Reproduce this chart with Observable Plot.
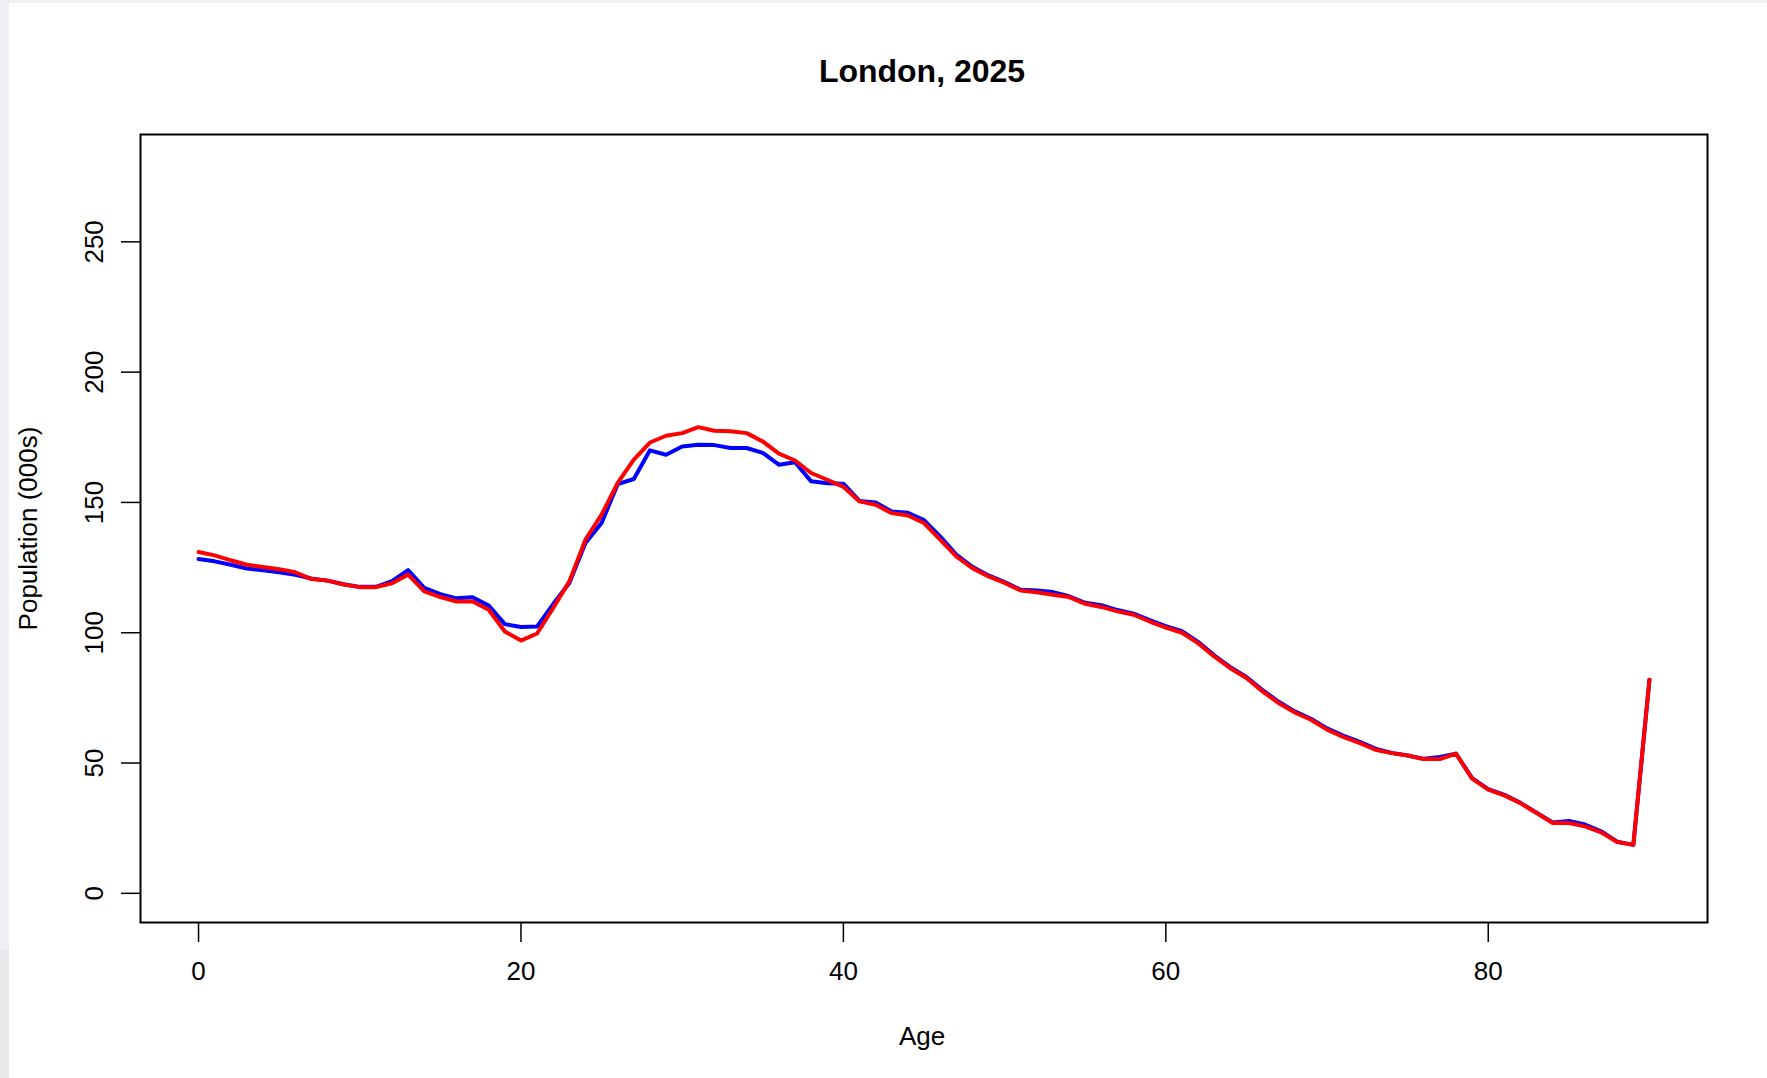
<!DOCTYPE html>
<html>
<head>
<meta charset="utf-8">
<script src="https://cdn.jsdelivr.net/npm/d3@7"></script>
<script src="https://cdn.jsdelivr.net/npm/@observablehq/plot@0.6"></script>
<style>
  body { margin: 0; background: #ffffff; width: 1767px; height: 1078px; overflow: hidden; position: relative; }
  #chart { position: absolute; left: 0; top: 0; }
  .strip { position: absolute; }
</style>
</head>
<body>
<div id="chart"></div>
<div class="strip" style="left:0;top:0;width:1767px;height:3px;background:#eef0f5"></div>
<div class="strip" style="left:0;top:0;width:9px;height:950px;background:#eef0f6"></div>
<div class="strip" style="left:0;top:950px;width:9px;height:128px;background:#e8e9eb"></div>
<script>
const ages = [0,1,2,3,4,5,6,7,8,9,10,11,12,13,14,15,16,17,18,19,20,21,22,23,24,25,26,27,28,29,30,
  31,32,33,34,35,36,37,38,39,40,41,42,43,44,45,46,47,48,49,50,51,52,53,54,55,56,57,58,59,60,
  61,62,63,64,65,66,67,68,69,70,71,72,73,74,75,76,77,78,79,80,81,82,83,84,85,86,87,88,89,90];

const seriesBlue = [128.3,127.4,126.1,124.6,124.0,123.2,122.2,120.8,120.0,118.6,117.6,
  117.6,119.8,124.0,117.2,114.8,113.2,113.6,110.4,103.3,102.2,
  102.4,111.0,119.1,134.4,142.1,157.0,159.0,170.0,168.3,171.5,
  172.1,172.0,170.9,170.9,169.0,164.5,165.4,158.1,157.4,157.2,
  150.6,150.0,146.5,146.0,143.2,137.0,130.0,125.3,122.0,119.4,
  116.5,116.2,115.6,114.0,111.5,110.6,108.7,107.3,104.8,102.5,
  100.6,96.5,91.3,86.8,83.0,78.0,73.5,69.8,67.0,63.3,
  60.5,58.2,55.5,53.9,52.9,51.6,52.3,53.6,44.2,40.0,
  37.8,34.7,30.9,27.2,27.8,26.4,23.8,19.8,18.6,82.0];

const seriesRed = [131.0,129.7,127.8,126.1,125.2,124.4,123.2,120.6,120.0,118.5,117.5,
  117.5,119.0,122.3,115.9,113.7,112.0,112.0,108.8,100.5,97.0,
  99.7,109.5,119.7,135.7,145.3,157.5,166.4,173.0,175.6,176.6,
  178.9,177.5,177.3,176.6,173.4,168.7,166.1,161.3,158.7,156.0,
  150.4,149.1,145.9,145.0,142.1,135.7,129.3,124.8,121.6,119.1,
  116.2,115.5,114.6,113.7,111.1,109.9,108.2,106.9,104.3,102.0,
  100.0,96.0,90.9,86.4,82.6,77.5,73.0,69.4,66.6,62.8,
  60.0,57.7,55.1,53.8,52.9,51.5,51.5,53.6,44.0,39.8,
  37.6,34.6,30.8,27.0,27.0,25.7,23.4,19.7,18.6,82.0];

const xTicks = [0, 20, 40, 60, 80];
const yTicks = [0, 50, 100, 150, 200, 250];
const titleText = "London, 2025";
const xLabel = "Age";
const yLabel = "Population (000s)";

const blueData = ages.map((a, i) => ({age: a, pop: seriesBlue[i]}));
const redData = ages.map((a, i) => ({age: a, pop: seriesRed[i]}));

const font = "'Liberation Sans', Arial, sans-serif";

const chart = Plot.plot({
  width: 1767,
  height: 1078,
  marginLeft: 140,
  marginRight: 60,
  marginTop: 134,
  marginBottom: 156,
  style: {background: "white", fontFamily: font, color: "black", overflow: "visible"},
  x: {domain: [-3.6, 93.6]},
  y: {domain: [-11.2, 291.2]},
  marks: [
    Plot.axisX({ticks: xTicks, tickSize: 20, fill: "none", label: null, strokeWidth: 1.5}),
    Plot.axisY({ticks: yTicks, tickSize: 19, fill: "none", label: null, strokeWidth: 1.5}),
    Plot.text(xTicks, {x: d => d, frameAnchor: "bottom", dy: 49, text: d => String(d),
      fontSize: 26, lineAnchor: "middle", textAnchor: "middle", fill: "black"}),
    Plot.text(yTicks, {y: d => d, frameAnchor: "left", dx: -46, rotate: -90, text: d => String(d),
      fontSize: 26, lineAnchor: "middle", textAnchor: "middle", fill: "black"}),
    Plot.line(blueData, {x: "age", y: "pop", stroke: "#0000ff", strokeWidth: 4}),
    Plot.line(redData, {x: "age", y: "pop", stroke: "#ff0000", strokeWidth: 4}),
    Plot.frame({stroke: "black", strokeWidth: 2}),
    Plot.text([titleText], {frameAnchor: "top", dy: -63, dx: -2, fontSize: 32, fontWeight: "bold",
      lineAnchor: "middle", textAnchor: "middle", fill: "black"}),
    Plot.text([xLabel], {frameAnchor: "bottom", dy: 114, dx: -2, fontSize: 26,
      lineAnchor: "middle", textAnchor: "middle", fill: "black"}),
    Plot.text([yLabel], {frameAnchor: "left", dx: -112, rotate: -90, fontSize: 26,
      lineAnchor: "middle", textAnchor: "middle", fill: "black"})
  ]
});
document.getElementById("chart").appendChild(chart);
</script>
</body>
</html>
